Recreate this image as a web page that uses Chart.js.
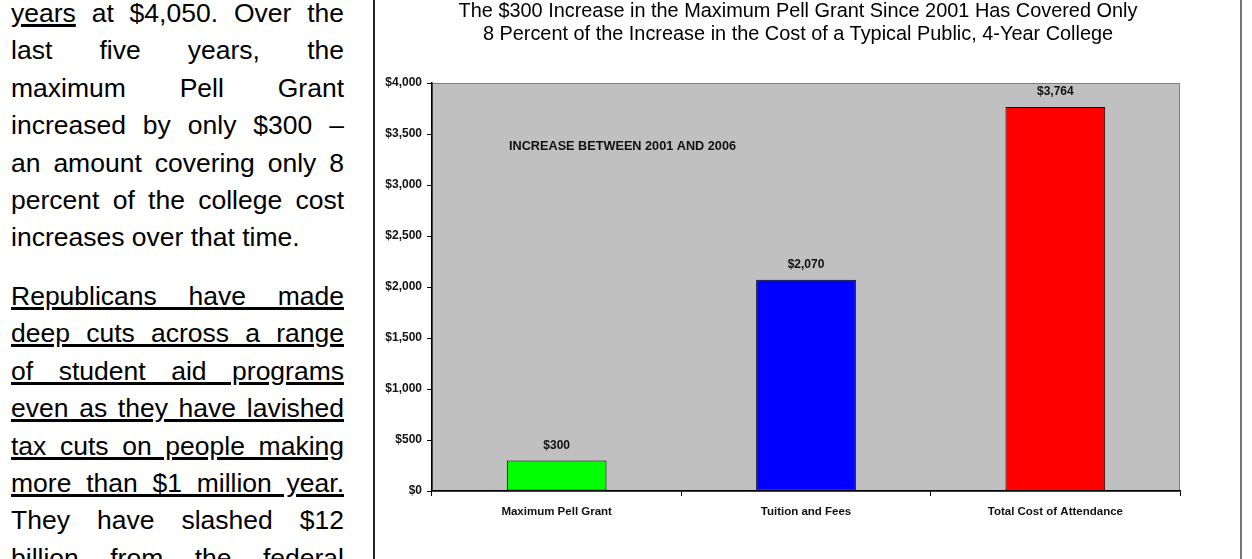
<!DOCTYPE html>
<html>
<head>
<meta charset="utf-8">
<script src="https://cdn.jsdelivr.net/npm/chart.js@4.4.0/dist/chart.umd.min.js"></script>
<style>
  html, body { margin: 0; padding: 0; background: #fff; overflow: hidden; }
  body { width: 1252px; height: 559px; position: relative; font-family: "Liberation Sans", Arial, sans-serif; color: #000; }
  .col { position: absolute; left: 11px; width: 333px; font-size: 26.5px; line-height: 37.4px; }
  .col div { text-align: justify; text-align-last: justify; }
  .col div.end { text-align: left; text-align-last: left; }
  .u { text-decoration: underline; text-decoration-thickness: 3px; text-underline-offset: 2px; }
  #p1 { top: -5px; }
  #p2 { top: 278px; }
  .vl { position: absolute; top: 0; height: 559px; width: 2px; }
  #box { position: absolute; left: 376px; top: 0; width: 842px; height: 559px; }
  #title { position: absolute; left: 398px; width: 800px; top: -1px; text-align: center; font-size: 19.9px; line-height: 22.5px; color: #000; }
</style>
</head>
<body>

<div class="col" id="p1">
  <div><span class="u">years</span> at $4,050. Over the</div>
  <div>last five years, the</div>
  <div>maximum Pell Grant</div>
  <div>increased by only $300 –</div>
  <div>an amount covering only 8</div>
  <div>percent of the college cost</div>
  <div class="end">increases over that time.</div>
</div>

<div class="col" id="p2">
  <div class="u">Republicans have made</div>
  <div class="u">deep cuts across a range</div>
  <div class="u">of student aid programs</div>
  <div class="u">even as they have lavished</div>
  <div class="u">tax cuts on people making</div>
  <div class="u">more than $1 million year.</div>
  <div>They have slashed $12</div>
  <div>billion from the federal</div>
</div>

<div class="vl" style="left:373px;background:#222;"></div>
<div class="vl" style="left:1240px;background:#777;"></div>

<div id="box"><canvas id="c"></canvas></div>
<div id="title"></div>

<script>
/* ── données du graphique ── */
const CATEGORIES = ['Maximum Pell Grant', 'Tuition and Fees', 'Total Cost of Attendance'];
const INCREASE   = [300, 2070, 3764];
const BAR_COLORS = ['#00FF00', '#0000FF', '#FF0000'];
const Y_TICKS    = [0, 500, 1000, 1500, 2000, 2500, 3000, 3500, 4000];
const TITLE      = [
  'The $300 Increase in the Maximum Pell Grant Since 2001 Has Covered Only',
  '8 Percent of the Increase in the Cost of a Typical Public, 4-Year College',
];
const NOTE = 'INCREASE BETWEEN 2001 AND 2006';

const FONT = '"Liberation Sans", Arial, sans-serif';
const money = v => '$' + v.toLocaleString('en-US');

// titre en HTML (centré sur la page comme l'original, pas sur la zone du graphique)
document.getElementById('title').innerHTML = TITLE.join('<br>');

/* fond gris de la zone de tracé */
const plotBg = {
  id: 'plotBg',
  beforeDraw(chart) {
    const { ctx, chartArea: a } = chart;
    ctx.save();
    ctx.fillStyle = '#C0C0C0';
    ctx.fillRect(a.left, a.top, a.width, a.height);
    ctx.strokeStyle = '#808080';
    ctx.lineWidth = 1;
    ctx.strokeRect(a.left + 0.5, a.top + 0.5, a.width - 1, a.height);
    ctx.restore();
  },
};

/* valeurs au-dessus des barres + note */
const labels = {
  id: 'labels',
  afterDatasetsDraw(chart) {
    const { ctx, chartArea: a } = chart;
    ctx.save();
    ctx.fillStyle = '#111';
    ctx.font = 'bold 12px ' + FONT;
    ctx.textAlign = 'center';
    ctx.textBaseline = 'middle';
    chart.getDatasetMeta(0).data.forEach((bar, i) => {
      ctx.fillText(money(INCREASE[i]), bar.x, bar.y - 15);
    });
    ctx.font = 'bold 12.7px ' + FONT;
    ctx.textAlign = 'left';
    ctx.fillText(NOTE, a.left + 77, a.top + 63);
    ctx.restore();
  },
};

new Chart(document.getElementById('c'), {
  type: 'bar',
  data: {
    labels: CATEGORIES,
    datasets: [{
      data: INCREASE,
      backgroundColor: BAR_COLORS,
      borderColor: '#000',
      borderWidth: 1,
      borderSkipped: false,
      categoryPercentage: 1,
      barPercentage: 0.4,
    }],
  },
  options: {
    responsive: true,
    maintainAspectRatio: false,
    animation: false,
    layout: { padding: { left: 0, right: 38, top: 83, bottom: 0 } },
    plugins: {
      legend: { display: false },
      tooltip: { enabled: false },
      title: { display: false },
    },
    scales: {
      x: {
        grid: { drawOnChartArea: false, drawTicks: true, tickLength: 5, color: '#000', offset: true },
        border: { color: '#000', width: 1.5 },
        ticks: { color: '#111', font: { family: FONT, size: 11.5, weight: 'bold' }, padding: 9, maxRotation: 0, autoSkip: false },
        afterFit(s) { s.height = 68; },
      },
      y: {
        min: 0,
        max: 4000,
        afterBuildTicks(s) { s.ticks = Y_TICKS.map(v => ({ value: v })); },
        grid: { drawOnChartArea: false, drawTicks: true, tickLength: 5, color: '#000' },
        border: { color: '#000', width: 1.5 },
        ticks: { color: '#111', font: { family: FONT, size: 12, weight: 'bold' }, padding: 5, callback: v => money(v) },
        afterFit(s) { s.width = 56; },
      },
    },
  },
  plugins: [plotBg, labels],
});
</script>
</body>
</html>
